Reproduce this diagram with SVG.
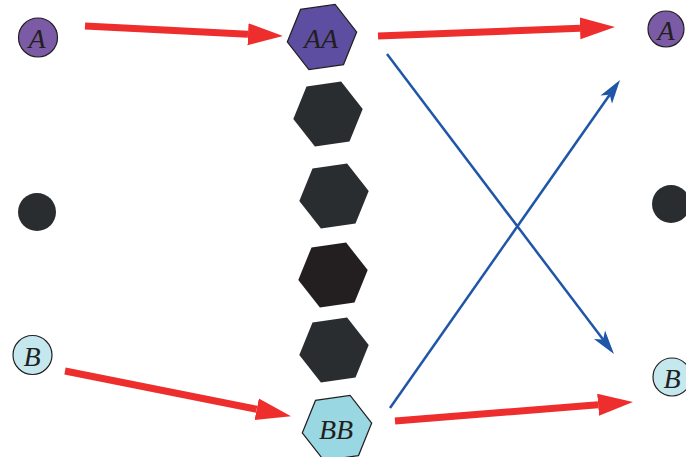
<svg xmlns="http://www.w3.org/2000/svg" width="686" height="457" viewBox="0 0 686 457">
<style>
.lbl{font-family:"Liberation Serif","Times New Roman",serif;font-style:italic;font-size:28px;fill:#231f20;text-anchor:middle;dominant-baseline:central}
.red{stroke:#ee2d2d;stroke-width:7;fill:none}
.blue{stroke:#1f56a8;stroke-width:2.5;fill:none}
.ol{stroke:#231f20;stroke-width:1.2}
</style>
<defs>
<marker id="rh" markerUnits="userSpaceOnUse" viewBox="0 -12 36 24" markerWidth="36" markerHeight="24" refX="0" refY="0" orient="auto">
<path d="M0,-11 L35,0 L0,11 Z" fill="#ee2d2d"/>
</marker>
<marker id="bh" markerUnits="userSpaceOnUse" viewBox="0 -10 30 20" markerWidth="30" markerHeight="20" refX="6" refY="0" orient="auto">
<path d="M0,-7 L24,0 L0,7 L6,0 Z" fill="#1f56a8"/>
</marker>
<polygon id="hex" points="34.7,-4.9 21.5,27.6 -13.1,32.5 -34.7,4.9 -21.5,-27.6 13.1,-32.5"/>
</defs>
<g id="connectors">
<line class="red" x1="85" y1="26" x2="248" y2="34.3" marker-end="url(#rh)"/>
<line class="red" x1="378" y1="36" x2="580" y2="28.3" marker-end="url(#rh)"/>
<line class="red" x1="65" y1="371" x2="256.7" y2="409.3" marker-end="url(#rh)"/>
<line class="red" x1="395" y1="421" x2="598.1" y2="404.7" marker-end="url(#rh)"/>
<line class="blue" x1="387" y1="54" x2="603.1" y2="339.6" marker-end="url(#bh)"/>
<line class="blue" x1="390" y1="408" x2="609.7" y2="94.7" marker-end="url(#bh)"/>
</g>
<g id="nodeA_left"><circle cx="38" cy="37.5" r="19.5" fill="#7b5ba6" class="ol"/><text class="lbl" x="37" y="38">A</text></g>
<g id="nodeDot_left"><circle cx="37" cy="212" r="19" fill="#2a2d30"/></g>
<g id="nodeB_left"><circle cx="32.5" cy="355" r="19.5" fill="#c5e8ee" class="ol"/><text class="lbl" x="32" y="356">B</text></g>
<g id="nodeAA"><use href="#hex" x="322" y="37" fill="#5e4ea2" class="ol"/><text class="lbl" x="321" y="38">AA</text></g>
<g id="hex2"><use href="#hex" x="328" y="114" fill="#2a2d30"/></g>
<g id="hex3"><use href="#hex" x="334" y="196" fill="#2a2d30"/></g>
<g id="hex4"><use href="#hex" x="333" y="275" fill="#231f20"/></g>
<g id="hex5"><use href="#hex" x="334" y="350" fill="#2a2d30"/></g>
<g id="nodeBB"><use href="#hex" x="337" y="428" fill="#99d8e2" class="ol"/><text class="lbl" x="336" y="429">BB</text></g>
<g id="nodeA_right"><circle cx="666" cy="29" r="18" fill="#7b5ba6" class="ol"/><text class="lbl" x="666" y="30">A</text></g>
<g id="nodeDot_right"><circle cx="671" cy="204" r="19" fill="#2a2d30"/></g>
<g id="nodeB_right"><circle cx="672" cy="377" r="19" fill="#c5e8ee" class="ol"/><text class="lbl" x="672" y="378">B</text></g>
</svg>
